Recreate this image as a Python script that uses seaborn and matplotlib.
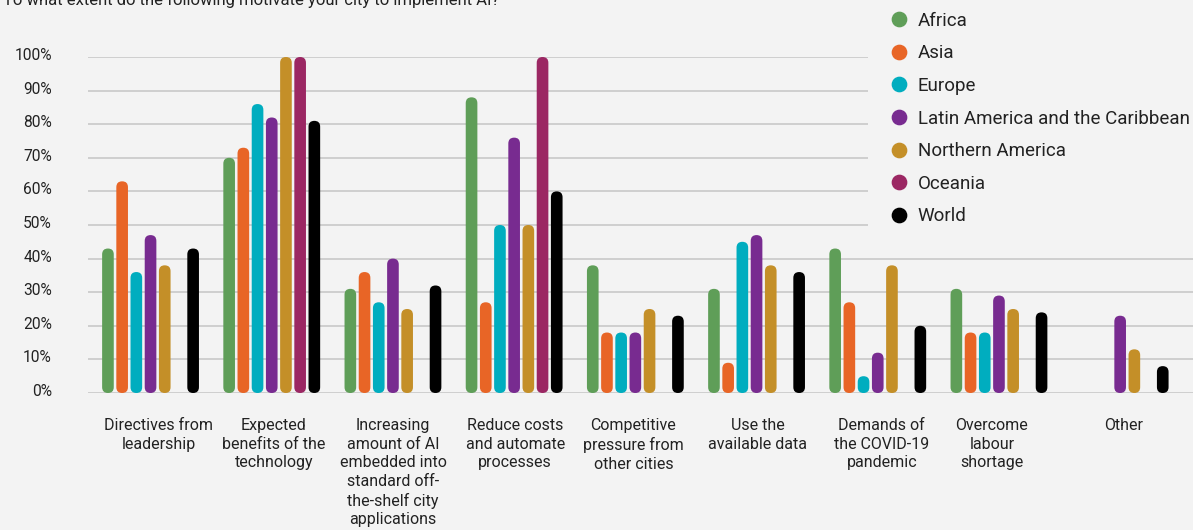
import numpy as np
import pandas as pd
import matplotlib
matplotlib.use("Agg")
import matplotlib.pyplot as plt
import matplotlib.transforms as mtransforms
from matplotlib.patches import FancyBboxPatch
from matplotlib.lines import Line2D
import seaborn as sns

# ---------------- data ----------------
categories = [
    "Directives from\nleadership",
    "Expected\nbenefits of the\ntechnology",
    "Increasing\namount of AI\nembedded into\nstandard off-\nthe-shelf city\napplications",
    "Reduce costs\nand automate\nprocesses",
    "Competitive\npressure from\nother cities",
    "Use the\navailable data",
    "Demands of\nthe COVID-19\npandemic",
    "Overcome\nlabour\nshortage",
    "Other",
]
regions = ["Africa", "Asia", "Europe", "Latin America and the Caribbean",
           "Northern America", "Oceania", "World"]

africa   = [43, 70, 31, 88, 38, 31, 43, 31, 0]
asia     = [63, 73, 36, 27, 18, 9, 27, 18, 0]
europe   = [36, 86, 27, 50, 18, 45, 5, 18, 0]
latam    = [47, 82, 40, 76, 18, 47, 12, 29, 23]
n_amer   = [38, 100, 25, 50, 25, 38, 38, 25, 13]
oceania  = [0, 100, 0, 100, 0, 0, 0, 0, 0]
world    = [43, 81, 32, 60, 23, 36, 20, 24, 8]

colors = ["#5f9e58", "#e86526", "#00adbf", "#782b90", "#c48f28", "#9b2763", "#000000"]
yticks = [0, 10, 20, 30, 40, 50, 60, 70, 80, 90, 100]
ytick_labels = [f"{v}%" for v in yticks]
title = "To what extent do the following motivate your city to implement AI?"

# layout: small horizontal nudges (pixels) of the category labels, as in the reference
label_nudge_px = [8, 2, 0, 1, -2, 1, 4, -7, 3]

series = [africa, asia, europe, latam, n_amer, oceania, world]
rows = []
for reg, vals in zip(regions, series):
    for cat, v in zip(categories, vals):
        rows.append({"category": cat, "region": reg, "value": v})
df = pd.DataFrame(rows)

# ---------------- style ----------------
BG = "#f3f3f3"
sns.set_theme(style="white")
plt.rcParams["font.family"] = ["Roboto", "DejaVu Sans"]
plt.rcParams["text.color"] = "#222222"

W, H = 1193, 530
fig = plt.figure(figsize=(W / 100, H / 100), dpi=100, facecolor=BG)
ax = fig.add_axes([88 / W, 1 - 393 / H, 1 - 88 / W, 336 / H])
ax.set_facecolor(BG)

sns.barplot(data=df, x="category", y="value", hue="region",
            order=categories, hue_order=regions, palette=colors,
            width=0.82, gap=0.18, ax=ax, legend=False, saturation=1)

ax.set_xlim(-0.516, 8.601)
ax.set_ylim(0, 100)

# convert bars to rounded bars
fig.canvas.draw()
p0 = ax.transData.transform((0, 0))
p1 = ax.transData.transform((1, 1))
x_per_px = 1 / (p1[0] - p0[0])
y_per_px = 1 / (p1[1] - p0[1])
aspect = y_per_px / x_per_px

for patch in list(ax.patches):
    x = patch.get_x()
    w = patch.get_width()
    h = patch.get_height()
    fc = patch.get_facecolor()
    patch.remove()
    if not np.isfinite(h) or h <= 0:
        continue
    r = w / 2
    fb = FancyBboxPatch((x, 0), w, h,
                        boxstyle=f"round,pad=0,rounding_size={r}",
                        mutation_aspect=aspect, facecolor=fc, edgecolor="none",
                        zorder=3)
    ax.add_patch(fb)

# grid & axes
ax.set_yticks(yticks)
ax.set_yticklabels(ytick_labels)
ax.yaxis.grid(True, color="#cccccc", linewidth=1.3, zorder=0)
ax.set_axisbelow(True)
for s in ax.spines.values():
    s.set_visible(False)
ax.set_xlabel("")
ax.set_ylabel("")
ax.tick_params(axis="x", length=0, pad=18, labelsize=11.5, colors="#222222")
ax.tick_params(axis="y", length=0, pad=26, labelsize=11.2, colors="#222222")
for lab, dx in zip(ax.get_xticklabels(), label_nudge_px):
    lab.set_linespacing(1.3)
    lab.set_transform(lab.get_transform() +
                      mtransforms.ScaledTranslation(dx / 100, 0, fig.dpi_scale_trans))
offset = mtransforms.ScaledTranslation(0, 3 / 100, fig.dpi_scale_trans)
for lab in ax.get_yticklabels():
    lab.set_transform(lab.get_transform() + offset)

# legend
handles = [Line2D([0], [0], marker="o", linestyle="none", markersize=10.3,
                  markerfacecolor=c, markeredgecolor=c) for c in colors]
leg = fig.legend(handles, regions, loc="upper left",
                 bbox_to_anchor=(868 / W, 1 + 7 / H), frameon=True,
                 facecolor=BG, edgecolor=BG, framealpha=1,
                 fontsize=13.5, handlelength=1.3, handletextpad=0.34,
                 labelspacing=0.78, borderpad=1.0, borderaxespad=0.0)
leg.get_frame().set_linewidth(0)
leg.set_zorder(5)

# title (cut at top as in reference)
fig.text(3 / W, 1 - 5 / H, title, fontsize=12, va="baseline", ha="left")

fig.savefig("out.png", dpi=100, facecolor=BG)
